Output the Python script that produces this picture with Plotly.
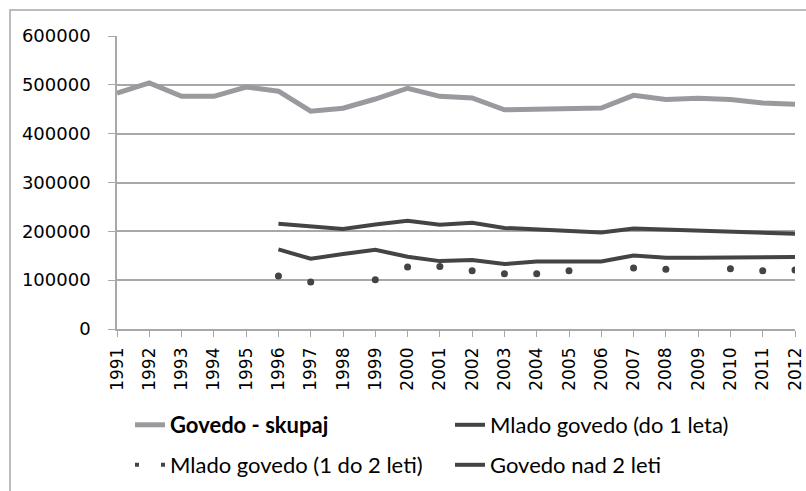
import plotly.graph_objects as go

years = list(range(1991, 2013))
skupaj = [483000, 504000, 476500, 476500, 495500, 487000, 446000, 452000, 471000, 493000, 476500,
          473000, 449000, 450500, 451500, 452500, 478500, 470000, 472500, 470000, 463000, 460000]
do1 = [None]*5 + [163000, 143800, 153400, 162200, 147900, 139000, 141100, 132900, 138400, 138400,
                  138400, 150700, 145800, 146000, 146500, 147000, 147200]
od1do2 = [None]*5 + [108400, 96100, None, 100800, 126800, 128200, 119200, 113100, 113100, 119200,
                     None, 124700, 122100, None, 123300, 119200, 120700]
nad2 = [None]*5 + [215300, 210600, 205000, 214000, 221500, 213300, 217400, 207000, 204500, 201000,
                   197700, 206000, 203900, 201800, 199800, 197700, 195000]
y_ticks = [0, 100000, 200000, 300000, 400000, 500000, 600000]

GRAY = "#9a9a9e"
DARK = "#444444"
GRID = "#a8a8a8"

fig = go.Figure()
fig.add_trace(go.Scatter(x=years, y=skupaj, mode="lines", name="<b>Govedo - skupaj</b>",
                         line=dict(color=GRAY, width=5), legend="legend"))
fig.add_trace(go.Scatter(x=years, y=do1, mode="lines", name="Mlado govedo (do 1 leta)",
                         line=dict(color=DARK, width=4), legend="legend2"))
fig.add_trace(go.Scatter(x=years, y=od1do2, mode="markers", name="Mlado govedo (1 do 2 leti)",
                         marker=dict(color=DARK, size=7), showlegend=False))
fig.add_trace(go.Scatter(x=[None], y=[None], mode="lines", name="Mlado govedo (1 do 2 leti)",
                         line=dict(color=DARK, width=4, dash="4px,22px"), legend="legend3"))
fig.add_trace(go.Scatter(x=years, y=nad2, mode="lines", name="Govedo nad 2 leti",
                         line=dict(color=DARK, width=4), legend="legend4"))

W, H = 806, 491
L, R, T, B = 117, 11, 36, 162
pw, ph = W - L - R, H - T - B

def px(xp):
    return (xp - L) / pw

def py(yp):
    return (H - B - yp) / ph

leg_font = dict(family="Lato", size=22, color="#000000")
def leg(xp, yp):
    return dict(x=xp / W, y=1 - yp / H, xref="container", yref="container",
                xanchor="left", yanchor="middle", orientation="h",
                font=leg_font, bgcolor="rgba(0,0,0,0)", borderwidth=0)

fig.update_layout(
    width=W, height=H,
    margin=dict(l=L, r=R, t=T, b=B, autoexpand=False),
    paper_bgcolor="white", plot_bgcolor="white",
    legend=leg(130, 425), legend2=leg(450, 425),
    legend3=leg(130, 465), legend4=leg(450, 465),
    shapes=[dict(type="rect", xref="paper", yref="paper",
                 x0=px(10), x1=px(830), y0=py(10), y1=py(520),
                 line=dict(color=GRID, width=1.5), layer="below")],
)
fig.update_xaxes(range=[1991, 2012], tickmode="array", tickvals=years, ticktext=[str(y) for y in years],
                 tickangle=-90, ticks="outside", ticklen=6, tickcolor=GRID, showline=True, linecolor=GRID,
                 linewidth=1.5, showgrid=False, zeroline=False, ticklabelstandoff=4,
                 tickfont=dict(family="DejaVu Sans", size=17, color="#000000"))
fig.update_yaxes(range=[0, 600000], tickmode="array", tickvals=y_ticks, ticktext=[str(v) for v in y_ticks],
                 ticks="outside", ticklen=7, tickcolor=GRID, showline=True, linecolor=GRID, linewidth=1.5,
                 showgrid=True, gridcolor=GRID, gridwidth=1.5, zeroline=False, ticklabelstandoff=14,
                 tickfont=dict(family="DejaVu Sans", size=18, color="#000000"))

fig.write_html("out.html", config={"displayModeBar": False},
               post_script="document.body.style.margin='0';document.body.style.padding='0';")
